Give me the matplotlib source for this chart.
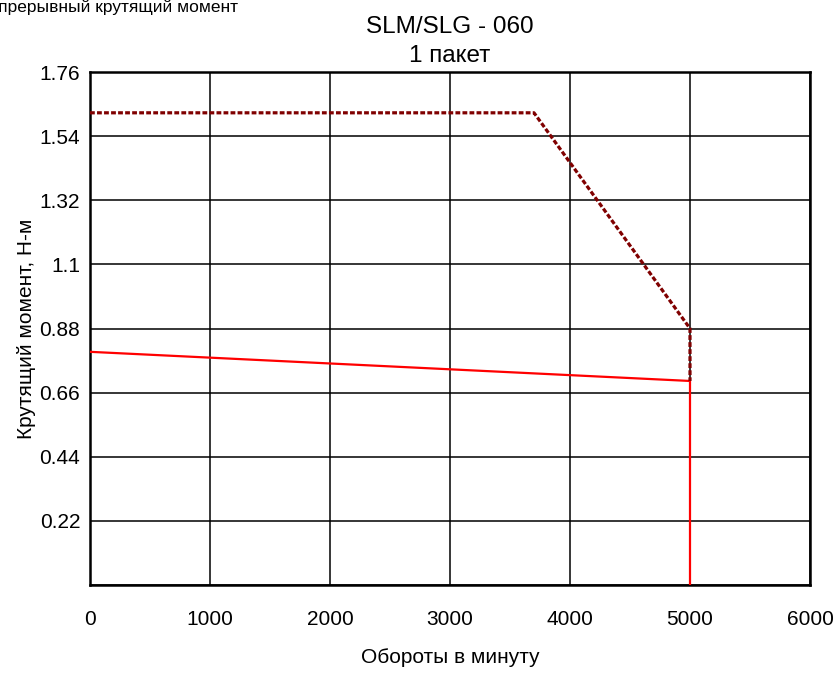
import matplotlib
matplotlib.use('Agg')
import matplotlib.pyplot as plt

plt.rcParams['font.family'] = ['Liberation Sans', 'DejaVu Sans']

# continuous (rated) torque curve
rated_rpm = [0, 5000, 5000]
rated_torque = [0.80, 0.70, 0.0]

# peak torque curve
peak_rpm = [0, 3700, 5000, 5000]
peak_torque = [1.62, 1.62, 0.88, 0.70]

x_ticks = [0, 1000, 2000, 3000, 4000, 5000, 6000]
y_ticks = [0, 0.22, 0.44, 0.66, 0.88, 1.1, 1.32, 1.54, 1.76]
y_labels = ['', '0.22', '0.44', '0.66', '0.88', '1.1', '1.32', '1.54', '1.76']

fig = plt.figure(figsize=(8.35, 6.73), dpi=100)
ax = fig.add_axes([90 / 835, 1 - 585 / 673, 720 / 835, 513 / 673])

ax.plot(rated_rpm, rated_torque, color='#ff0000', lw=1.6, zorder=3)
ax.plot(peak_rpm, peak_torque, color='#800000', lw=2.3, dashes=(1.5, 0.7),
        dash_capstyle='butt', zorder=4)

ax.set_xlim(0, 6000)
ax.set_ylim(0, 1.76)
ax.set_xticks(x_ticks)
ax.set_yticks(y_ticks)
ax.set_yticklabels(y_labels)
ax.tick_params(axis='x', length=0, pad=18, labelsize=15)
ax.tick_params(axis='y', length=0, pad=7, labelsize=15)
ax.grid(True, color='black', lw=1.1)
for sp in ax.spines.values():
    sp.set_linewidth(1.8)

ax.set_xlabel('Обороты в минуту', fontsize=15, labelpad=14)
ax.set_ylabel('Крутящий момент, Н-м', fontsize=15, labelpad=2.5)
ax.set_title('SLM/SLG - 060\n1 пакет', fontsize=17.5, linespacing=1.45, pad=7)

# legend caption in the top-left corner runs off the figure edge
fig.text(238 / 835, 1 - 12 / 673, 'Непрерывный крутящий момент', fontsize=12.5,
         ha='right', va='baseline')

plt.savefig('out.png', dpi=100)
